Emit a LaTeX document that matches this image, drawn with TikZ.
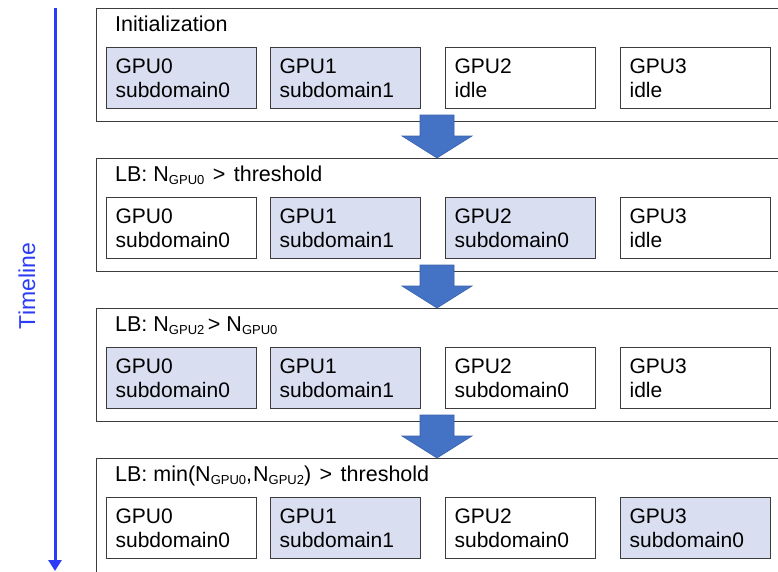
\documentclass[tikz,border=0pt]{standalone}
\usepackage{fontspec}
\setmainfont{Liberation Sans}
\usetikzlibrary{arrows.meta}
\definecolor{shade}{HTML}{D9DEF1}
\definecolor{barrow}{HTML}{4472C4}
\definecolor{barrowline}{HTML}{3A62AC}
\definecolor{timeblue}{HTML}{2A3CF7}
\definecolor{frame}{HTML}{3C3C3C}
\newcommand{\gsub}[1]{\raisebox{-3pt}{\fontsize{13}{13}\selectfont #1}}
\newcommand{\gap}{\hspace{2.5pt}}
\begin{document}
\begin{tikzpicture}[x=1pt,y=-1pt,
  font=\fontsize{21}{24.5}\selectfont,
  outerbox/.style={draw=frame, line width=1.2pt, anchor=north west,
    minimum width=760, minimum height=113, inner sep=0pt},
  gpubox/.style={draw=frame, line width=1.2pt, anchor=north west,
    minimum width=150, minimum height=61.5, inner xsep=9pt, inner ysep=0pt,
    text width=132, align=left},
  busy/.style={gpubox, fill=shade},
  idle/.style={gpubox, fill=white},
  title/.style={anchor=base west, inner sep=0pt, font=\fontsize{21.5}{24}\selectfont},
  blockarrow/.style={fill=barrow, draw=barrowline, line width=0.6pt},
]
\clip (0,0) rectangle (778,571);
\fill[white] (0,0) rectangle (778,571);

% timeline
\coordinate (tl0) at (55,8);
\coordinate (tl1) at (55,571);
\draw[timeblue, line width=3pt, -{Triangle[width=13pt,length=11pt]}] (tl0) -- (tl1);
\node[rotate=90, text=timeblue, font=\fontsize{23}{23}\selectfont, inner sep=0pt] (tlabel) at (27,286) {Timeline};

% stage boxes
\node[outerbox] (s1) at (96,8) {};
\node[outerbox] (s2) at (96,158) {};
\node[outerbox] (s3) at (96,308) {};
\node[outerbox, minimum height=125] (s4) at (96,458) {};

% titles
\node[title] (t1) at (115,31.5) {Initialization};
\node[title] (t2) at (115,181.5) {LB: N\gsub{GPU0}\gap{} >\gap{} threshold};
\node[title] (t3) at (115,331.5) {LB: N\gsub{GPU2}\,> N\gsub{GPU0}};
\node[title] (t4) at (115,481.5) {LB: min(N\gsub{GPU0},\hspace{1pt}N\gsub{GPU2})\gap{} >\gap{} threshold};

% row 1
\node[busy] (a0) at (106,46.7) {GPU0\\subdomain0};
\node[busy] (a1) at (270,46.7) {GPU1\\subdomain1};
\node[idle] (a2) at (445,46.7) {GPU2\\idle};
\node[idle] (a3) at (620,46.7) {GPU3\\idle};
% row 2
\node[idle] (b0) at (106,196.7) {GPU0\\subdomain0};
\node[busy] (b1) at (270,196.7) {GPU1\\subdomain1};
\node[busy] (b2) at (445,196.7) {GPU2\\subdomain0};
\node[idle] (b3) at (620,196.7) {GPU3\\idle};
% row 3
\node[busy] (c0) at (106,346.7) {GPU0\\subdomain0};
\node[busy] (c1) at (270,346.7) {GPU1\\subdomain1};
\node[idle] (c2) at (445,346.7) {GPU2\\subdomain0};
\node[idle] (c3) at (620,346.7) {GPU3\\idle};
% row 4
\node[idle] (d0) at (106,496.7) {GPU0\\subdomain0};
\node[busy] (d1) at (270,496.7) {GPU1\\subdomain1};
\node[idle] (d2) at (445,496.7) {GPU2\\subdomain0};
\node[busy] (d3) at (620,496.7) {GPU3\\subdomain0};

% block arrows between stages
\foreach \o in {0,150,300}{
  \filldraw[blockarrow, shift={(0,\o)}]
    (420,115) -- (454,115) -- (454,136) -- (472,136) -- (437,158)
    -- (402,136) -- (420,136) -- cycle;
}
\end{tikzpicture}
\end{document}
